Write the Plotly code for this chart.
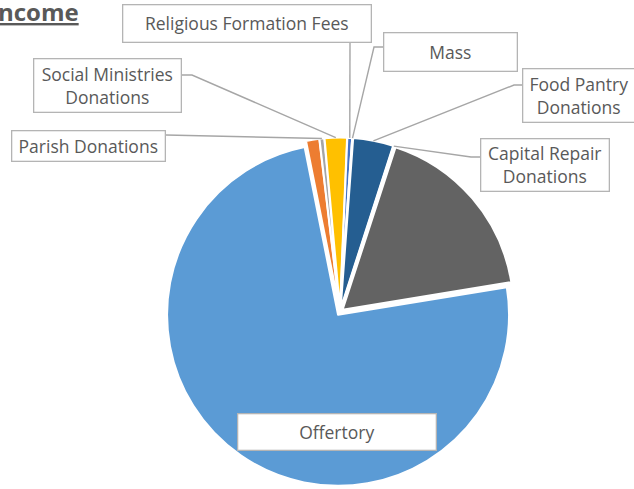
import math
import plotly.graph_objects as go

# ---------------- data ----------------
categories = [
    "Offertory",
    "Other Donations",
    "Parish Donations",
    "Social Ministries Donations",
    "Religious Formation Fees",
    "Mass",
    "Food Pantry Donations",
    "Capital Repair Donations",
    "Other Income",
]
shares = [74.45, 1.25, 0.45, 2.1, 0.45, 0.05, 3.8, 0.05, 17.4]
slice_colors = ["#5B9BD5", "#ED7D31", "#A5A5A5", "#FFC000", "#4472C4",
                "#70AD47", "#255E91", "#9E480E", "#636363"]
# text shown in each slice's callout (None = no callout visible)
callout_text = [
    "Offertory",
    None,
    "Parish Donations",
    "Social Ministries<br>Donations",
    "Religious Formation Fees",
    "Mass",
    "Food Pantry<br>Donations",
    "Capital Repair<br>Donations",
    None,
]

# ---------------- layout / style ----------------
W, H = 634, 489
CX, CY = 340.0, 312.0          # pie centre (px)
PULL = 0.02
R_DOM = 174.4                  # half size of pie domain (px)
R = R_DOM / (1 + PULL)         # slice radius
ROTATION = 80.7

TEXT_COLOR = "#595959"
BOX_LINE = "#B4B4B4"
LEADER = "#A6A6A6"
FONT = "Open Sans"
FONT_SIZE = 17.5

# callout boxes: centre x, centre y, width, height (px); leader start / elbow (px)
boxes = {
    "Offertory": dict(c=(337, 432), wh=(200, 38), lead=None),
    "Parish Donations": dict(c=(88.5, 146), wh=(155, 32), lead=[(166, 135)]),
    "Social Ministries Donations": dict(c=(107.5, 85.5), wh=(149, 55), lead=[(182, 75), (192, 75)]),
    "Religious Formation Fees": dict(c=(247, 23.5), wh=(250, 39), lead=[(350, 43)]),
    "Mass": dict(c=(450.5, 52), wh=(135, 40), lead=[(383, 47), (374, 47)]),
    "Food Pantry Donations": dict(c=(579, 95), wh=(114, 55), lead=[(522, 85), (514, 85)]),
    "Capital Repair Donations": dict(c=(545, 165.5), wh=(130, 54), lead=[(480, 157), (471, 157)]),
}


def px2paper(x, y):
    return x / W, 1 - y / H


dx0, dy1 = px2paper(CX - R_DOM, CY - R_DOM)
dx1, dy0 = px2paper(CX + R_DOM, CY + R_DOM)

fig = go.Figure(go.Pie(
    labels=categories,
    values=shares,
    sort=False,
    direction="clockwise",
    rotation=ROTATION,
    pull=PULL,
    marker=dict(colors=slice_colors, line=dict(color="white", width=2)),
    textinfo="none",
    hoverinfo="label+percent",
    showlegend=False,
    domain=dict(x=[dx0, dx1], y=[dy0, dy1]),
))

annotations = []
shapes = []
total = sum(shares)
acc = 0.0
for name, v, txt in zip(categories, shares, callout_text):
    start = ROTATION + acc / total * 360
    acc += v
    mid = math.radians(start + v / total * 360 / 2)
    if txt is None:
        continue
    b = boxes[name]
    bx, by = px2paper(*b["c"])
    annotations.append(dict(
        x=bx, y=by, xref="paper", yref="paper", xanchor="center", yanchor="middle",
        text=txt, showarrow=False, font=dict(family=FONT, size=FONT_SIZE, color=TEXT_COLOR),
        bgcolor="white", bordercolor=BOX_LINE, borderwidth=1.3, borderpad=0,
        width=b["wh"][0] - 3, height=b["wh"][1] - 3, align="center",
    ))
    if b["lead"]:
        rr = R * (1 + PULL)
        ex = CX + rr * math.sin(mid)
        ey = CY - rr * math.cos(mid)
        pts = b["lead"] + [(ex, ey)]
        path = ""
        for i, (px, py) in enumerate(pts):
            X, Y = px2paper(px, py)
            path += ("M" if i == 0 else " L") + f" {X:.5f} {Y:.5f}"
        shapes.append(dict(type="path", path=path, xref="paper", yref="paper",
                           line=dict(color=LEADER, width=1.4), layer="above"))

# title (partly cut off at left edge, as in the reference)
tx, ty = px2paper(81, 11)
annotations.append(dict(
    x=tx, y=ty, xref="paper", yref="paper", xanchor="right", yanchor="middle",
    text="<b><u>Income</u></b>", showarrow=False,
    font=dict(family=FONT, size=24, color=TEXT_COLOR),
))

fig.update_layout(
    width=W, height=H,
    margin=dict(l=0, r=0, t=0, b=0),
    paper_bgcolor="white", plot_bgcolor="white",
    annotations=annotations, shapes=shapes,
)

fig.write_html("out.html", config={"displayModeBar": False},
               post_script="document.body.style.margin='0';")
